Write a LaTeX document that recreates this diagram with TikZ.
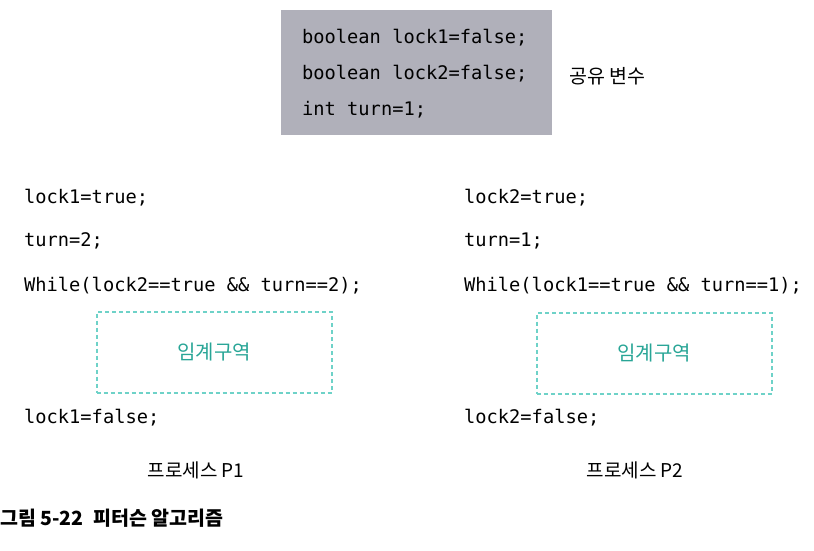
\documentclass[tikz,border=0pt]{standalone}
\usepackage{fontspec}
\setmonofont{DejaVu Sans Mono}
\newfontfamily\kr{Noto Sans CJK KR}
\usetikzlibrary{positioning}
\definecolor{boxgray}{RGB}{176,176,186}
\definecolor{crittext}{RGB}{40,165,150}
\definecolor{critline}{RGB}{110,210,200}
\tikzset{
  code/.style={anchor=west, inner sep=0pt, font=\ttfamily\fontsize{18.7}{20}\selectfont},
  krtext/.style={inner sep=0pt, font=\kr\fontsize{19}{22}\selectfont},
  crit/.style={draw=critline, dash pattern=on 4pt off 3pt, line width=2pt,
    minimum width=235pt, minimum height=81pt, text=crittext,
    font=\kr\fontsize{20}{22}\selectfont}
}
\begin{document}
\begin{tikzpicture}[x=1pt,y=-1pt]
\useasboundingbox (0,0) rectangle (814,550);
% shared variables
\node[fill=boxgray, anchor=north west, minimum width=271pt, minimum height=125pt] (shared) at (281,10) {};
\node[code] (s1) at (302,38) {boolean lock1=false;};
\node[code] (s2) at (302,74) {boolean lock2=false;};
\node[code] (s3) at (302,110) {int turn=1;};
\node[krtext, anchor=west, font=\kr\fontsize{19.5}{22}\selectfont] (sharedlbl) at (569,76) {공유 변수};
% process P1
\node[code] (a1) at (24,198) {lock1=true;};
\node[code] (a2) at (24,241) {turn=2;};
\node[code] (a3) at (24,286) {While(lock2==true \&\& turn==2);};
\node[crit] (cs1) at (214,352) {임계구역};
\node[code] (a4) at (24,418) {lock1=false;};
\node[krtext] (p1) at (196,470) {프로세스 P1};
% process P2
\node[code] (b1) at (464,198) {lock2=true;};
\node[code] (b2) at (464,241) {turn=1;};
\node[code] (b3) at (464,286) {While(lock1==true \&\& turn==1);};
\node[crit] (cs2) at (654,353) {임계구역};
\node[code] (b4) at (464,418) {lock2=false;};
\node[krtext] (p2) at (635,470) {프로세스 P2};
% caption
\node[krtext, anchor=west, font=\kr\bfseries\fontsize{19.5}{22}\selectfont] (cap) at (0,518) {그림 5-22\enspace 피터슨 알고리즘};
\end{tikzpicture}
\end{document}
